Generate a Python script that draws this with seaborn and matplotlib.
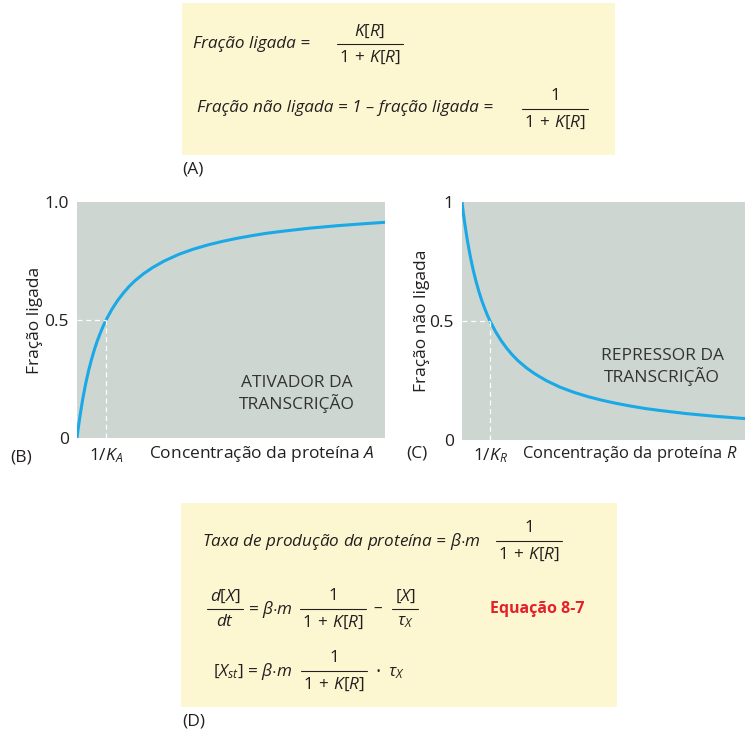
import numpy as np
import matplotlib
matplotlib.use('Agg')
import matplotlib.pyplot as plt
import seaborn as sns
import pandas as pd
from matplotlib.patches import Rectangle

# values (concentration in units of 1/K)
conc_a = [0, 0.02, 0.05, 0.1, 0.15, 0.2, 0.3, 0.4, 0.5, 0.6, 0.7, 0.8, 0.9, 1.0, 1.2, 1.4, 1.6, 1.8,
          2.0, 2.3, 2.6, 3.0, 3.5, 4.0, 4.5, 5.0, 5.5, 6.0, 6.5, 7.0, 7.5, 8.0, 9.0, 10.0, 10.6]
frac_bound = [0, 0.02, 0.048, 0.091, 0.13, 0.167, 0.231, 0.286, 0.333, 0.375, 0.412, 0.444, 0.474,
              0.5, 0.545, 0.583, 0.615, 0.643, 0.667, 0.697, 0.722, 0.75, 0.778, 0.8, 0.818, 0.833,
              0.846, 0.857, 0.867, 0.875, 0.882, 0.889, 0.9, 0.909, 0.914]

conc_r = [0, 0.02, 0.05, 0.1, 0.15, 0.2, 0.3, 0.4, 0.5, 0.6, 0.7, 0.8, 0.9, 1.0, 1.2, 1.4, 1.6, 1.8,
          2.0, 2.3, 2.6, 3.0, 3.5, 4.0, 4.5, 5.0, 5.5, 6.0, 6.5, 7.0, 7.5, 8.0, 9.0, 10.1]
frac_unbound = [1.0, 0.98, 0.952, 0.909, 0.87, 0.833, 0.769, 0.714, 0.667, 0.625, 0.588, 0.556, 0.526,
                0.5, 0.455, 0.417, 0.385, 0.357, 0.333, 0.303, 0.278, 0.25, 0.222, 0.2, 0.182, 0.167,
                0.154, 0.143, 0.133, 0.125, 0.118, 0.111, 0.1, 0.09]

half_conc = 1.0
half_frac = 0.5
yticks_b = [0, 0.5, 1.0]
yticklabels_b = ['0', '0.5', '1.0']
yticks_c = [0, 0.5, 1.0]
yticklabels_c = ['0', '0.5', '1']

sns.set_theme(style='white')
plt.rcParams['font.family'] = ['Open Sans', 'DejaVu Sans']
plt.rcParams['mathtext.fontset'] = 'custom'
plt.rcParams['mathtext.rm'] = 'Open Sans'
plt.rcParams['mathtext.it'] = 'Open Sans:italic'
plt.rcParams['mathtext.bf'] = 'Open Sans:bold'

W, H = 745, 734
BOX = '#fdf7d1'
PLOT_BG = '#cdd6d1'
CURVE = '#1aa9e6'
INK = '#231f20'
RED = '#e3212b'
FS = 12.3
AFS = 12.5

fig = plt.figure(figsize=(W / 100, H / 100), dpi=100)

# overlay in pixel coordinates for boxes and formulas
ov = fig.add_axes([0, 0, 1, 1])
ov.set_xlim(0, W)
ov.set_ylim(H, 0)
ov.axis('off')


def frac(x, ybar, num, den, width, gap=13, size=FS):
    ov.text(x, ybar - gap, num, ha='center', va='center', fontsize=size, color=INK)
    ov.text(x, ybar + gap, den, ha='center', va='center', fontsize=size, color=INK)
    ov.plot([x - width / 2, x + width / 2], [ybar, ybar], color=INK, lw=0.8)


# --- box A ---
ov.add_patch(Rectangle((182, 3), 433, 152, facecolor=BOX, edgecolor='none'))
ov.text(193, 44, 'Fração ligada =', ha='left', va='center', fontsize=FS, style='italic', color=INK)
frac(370, 44, '$K[R]$', '$1\\,+\\,K[R]$', 66)
ov.text(197, 108, 'Fração não ligada = 1 – fração ligada =', ha='left', va='center',
        fontsize=FS, style='italic', color=INK)
frac(555, 109, '1', '$1\\,+\\,K[R]$', 66)
ov.text(182, 169, '(A)', ha='left', va='center', fontsize=AFS, color=INK)

# --- box D ---
ov.add_patch(Rectangle((181, 503), 436, 204, facecolor=BOX, edgecolor='none'))
ov.text(202, 541, 'Taxa de produção da proteína = $\\beta{\\cdot}m$', ha='left', va='center',
        fontsize=FS, style='italic', color=INK)
frac(529, 541, '1', '$1\\,+\\,K[R]$', 66)

frac(225, 609, '$d[X]$', '$dt$', 36)
ov.text(248, 609, '= $\\beta{\\cdot}m$', ha='left', va='center', fontsize=FS, color=INK)
frac(333, 609, '1', '$1\\,+\\,K[R]$', 66)
ov.text(378, 609, '–', ha='center', va='center', fontsize=FS, color=INK)
frac(405, 609, '$[X]$', '$\\tau_X$', 26)
ov.text(490, 609, 'Equação 8-7', ha='left', va='center', fontsize=11.5, fontweight='bold', color=RED)

ov.text(213, 672, '$[X_{st}]$ = $\\beta{\\cdot}m$', ha='left', va='center', fontsize=FS, color=INK)
frac(334, 671, '1', '$1\\,+\\,K[R]$', 66)
ov.text(378, 673, '·', ha='center', va='center', fontsize=FS + 2, color=INK)
ov.text(388, 673, '$\\tau_X$', ha='left', va='center', fontsize=FS, color=INK)
ov.text(182, 721, '(D)', ha='left', va='center', fontsize=AFS, color=INK)


def style_panel(ax, xmax, yticks, yticklabels, ylabel, labelpad):
    ax.set_facecolor(PLOT_BG)
    ax.set_xlim(0, xmax)
    ax.set_ylim(0, 1.0)
    ax.set_xticks([])
    ax.set_yticks(yticks)
    ax.set_yticklabels(yticklabels)
    ax.tick_params(axis='y', length=0, pad=6, labelsize=AFS, labelcolor=INK)
    ax.set_xlabel('')
    ax.set_ylabel(ylabel, fontsize=AFS, color=INK, labelpad=labelpad)
    for s in ax.spines.values():
        s.set_visible(False)
    # dashed guide at half occupancy
    ax.plot([0, half_conc], [half_frac, half_frac], color='white', lw=0.9, ls=(0, (4, 3)))
    ax.plot([half_conc, half_conc], [0, half_frac], color='white', lw=0.9, ls=(0, (4, 3)))


# --- panel B ---
axb = fig.add_axes([77 / W, 1 - 438 / H, 308 / W, 236 / H])
df_b = pd.DataFrame({'conc': conc_a, 'frac': frac_bound})
sns.lineplot(data=df_b, x='conc', y='frac', ax=axb, color=CURVE, lw=2.2, sort=False)
style_panel(axb, 10.6, yticks_b, yticklabels_b, 'Fração ligada', 1)
axb.text(0.714, 0.186, 'ATIVADOR DA\nTRANSCRIÇÃO', transform=axb.transAxes, ha='center',
         va='center', fontsize=AFS, color='#333333', linespacing=1.2)
ov.text(106, 456, '1/$K_A$', ha='center', va='center', fontsize=AFS, color=INK)
ov.text(375, 454, 'Concentração da proteína $A$', ha='right', va='center', fontsize=AFS, color=INK)
ov.text(10, 458, '(B)', ha='left', va='center', fontsize=AFS, color=INK)

# --- panel C ---
axc = fig.add_axes([462 / W, 1 - 440 / H, 283 / W, 238 / H])
df_c = pd.DataFrame({'conc': conc_r, 'frac': frac_unbound})
sns.lineplot(data=df_c, x='conc', y='frac', ax=axc, color=CURVE, lw=2.2, sort=False)
style_panel(axc, 10.1, yticks_c, yticklabels_c, 'Fração não ligada', -0.5)
axc.text(0.707, 0.307, 'REPRESSOR DA\nTRANSCRIÇÃO', transform=axc.transAxes, ha='center',
         va='center', fontsize=AFS, color='#333333', linespacing=1.2)
ov.text(490, 456, '1/$K_R$', ha='center', va='center', fontsize=AFS, color=INK)
ov.text(522, 454, 'Concentração da proteína $R$', ha='left', va='center', fontsize=11.9, color=INK)
ov.text(406, 453, '(C)', ha='left', va='center', fontsize=AFS, color=INK)

fig.savefig('out.png', dpi=100)
